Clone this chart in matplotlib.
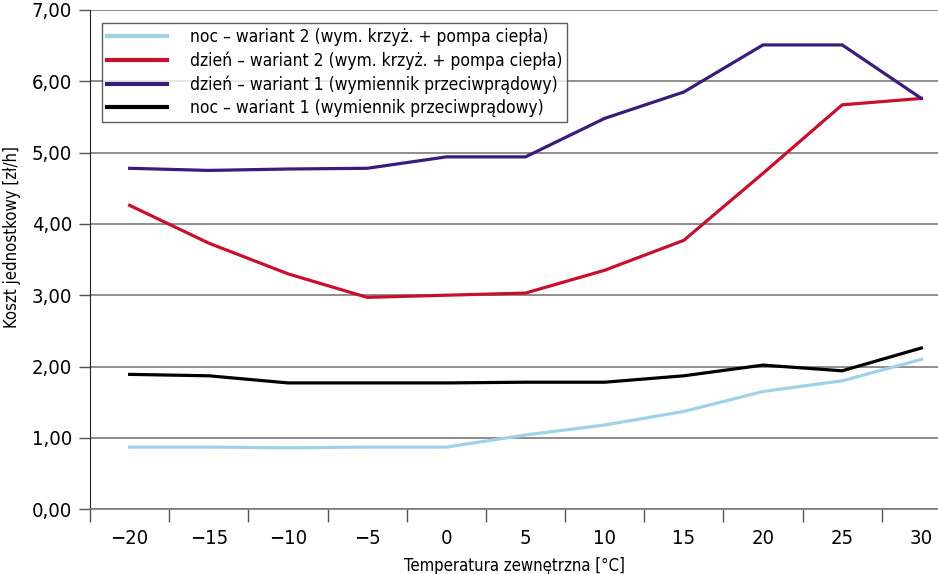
import numpy as np
import matplotlib
matplotlib.use("Agg")
import matplotlib.pyplot as plt

plt.rcParams['font.family'] = ['DejaVu Sans']
plt.rcParams['font.stretch'] = 'condensed'

temps = ["\u221220", "\u221215", "\u221210", "\u22125", "0", "5", "10", "15", "20", "25", "30"]

noc_w2 = [0.87, 0.87, 0.86, 0.87, 0.87, 1.04, 1.18, 1.37, 1.65, 1.80, 2.10]
dzien_w2 = [4.26, 3.73, 3.30, 2.97, 3.00, 3.03, 3.35, 3.77, 4.71, 5.67, 5.76]
dzien_w1 = [4.78, 4.75, 4.77, 4.78, 4.94, 4.94, 5.48, 5.85, 6.51, 6.51, 5.76]
noc_w1 = [1.89, 1.87, 1.77, 1.77, 1.77, 1.78, 1.78, 1.87, 2.02, 1.94, 2.26]

labels = [
    "noc \u2013 wariant 2 (wym. krzy\u017c. + pompa ciep\u0142a)",
    "dzie\u0144 \u2013 wariant 2 (wym. krzy\u017c. + pompa ciep\u0142a)",
    "dzie\u0144 \u2013 wariant 1 (wymiennik przeciwpr\u0105dowy)",
    "noc \u2013 wariant 1 (wymiennik przeciwpr\u0105dowy)",
]
colors = ["#9fd2ea", "#c8102e", "#3b1c7a", "#000000"]

fig = plt.figure(figsize=(9.38, 5.74), dpi=100)
ax = fig.add_axes([0.096, 0.113, 0.904, 0.8696])

x = np.arange(len(temps))
for vals, lab, col in zip([noc_w2, dzien_w2, dzien_w1, noc_w1], labels, colors):
    ax.plot(x, vals, color=col, lw=2.3, label=lab, solid_joinstyle='miter')

ax.set_xlim(-0.5, 10.21)
ax.set_ylim(0, 7)

ax.set_yticks(np.arange(0, 8, 1))
ax.set_yticklabels([f"{v},00" for v in range(8)])
ax.yaxis.grid(True, color="#7a7a7a", lw=1.2)
ax.set_axisbelow(True)

# ticks sit between categories, labels in the middle
ax.set_xticks(np.arange(-0.5, 10, 1))
ax.set_xticklabels([])
ax.set_xticks(x, minor=True)
ax.set_xticklabels(temps, minor=True)
ax.tick_params(axis='x', which='major', length=9, width=1, color="#555555", direction='out')
ax.tick_params(axis='x', which='minor', length=0, pad=14, labelsize=14.5)
ax.tick_params(axis='y', length=8, width=1, color="#555555", labelsize=14.5, pad=5)

for s in ["top", "right"]:
    ax.spines[s].set_visible(False)
ax.spines["left"].set_color("#222222")
ax.spines["bottom"].set_color("#7a7a7a")
ax.spines["bottom"].set_linewidth(1.2)

ax.set_xlabel("Temperatura zewn\u0119trzna [\u00b0C]", fontsize=12, labelpad=7)
ax.set_ylabel("Koszt jednostkowy [z\u0142/h]", fontsize=12)
ax.yaxis.set_label_coords(-0.081, 0.545)

leg = ax.legend(loc="upper left", bbox_to_anchor=(0.0142, 0.974), fontsize=12.5,
                frameon=True, fancybox=False, handlelength=3.45, handletextpad=1.3,
                labelspacing=0.3, borderpad=0.3, borderaxespad=0)
leg.get_frame().set_edgecolor("#333333")
leg.get_frame().set_linewidth(1.0)
for h in leg.get_lines():
    h.set_linewidth(3)

fig.savefig("out.png", dpi=100)
